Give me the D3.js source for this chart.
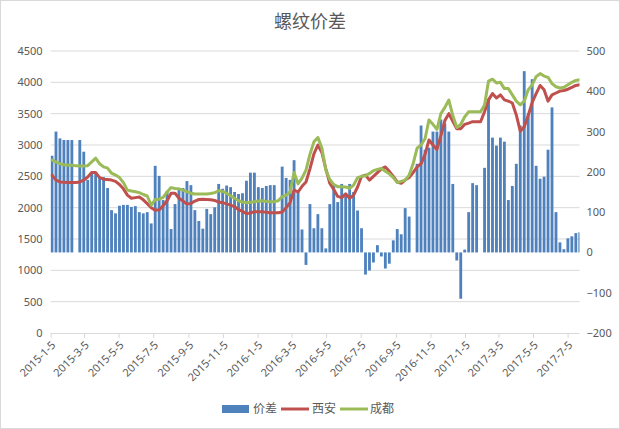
<!DOCTYPE html>
<html><head><meta charset="utf-8">
<script src="https://cdn.jsdelivr.net/npm/d3@7"></script>
<style>body{margin:0;background:#fff}text{font-family:"Noto Sans","Noto Sans CJK SC",sans-serif}</style>
</head><body>
<svg id="c" width="620" height="429"></svg>
<script>
// ---- data ----
const title = "螺纹价差";
const seriesNames = ["价差", "西安", "成都"];
const firstWeek = "2015-01-05";   // weekly samples, one per week from this Monday
const lastDay = "2017-07-26";
const tickLabels = ["2015-1-5","2015-3-5","2015-5-5","2015-7-5","2015-9-5","2015-11-5","2016-1-5","2016-3-5","2016-5-5","2016-7-5","2016-9-5","2016-11-5","2017-1-5","2017-3-5","2017-5-5","2017-7-5"];
const leftTicks = [0,500,1000,1500,2000,2500,3000,3500,4000,4500];
const rightTicks = [-200,-100,0,100,200,300,400,500];
// 价差 (right axis)
const spread = [240,300,283,279,279,279,null,279,250,180,
 200,200,185,187,160,105,97,116,118,118,
 113,115,100,97,100,72,215,190,130,152,
 58,120,160,160,177,167,105,78,59,108,
 95,112,170,158,166,162,150,145,147,178,
 198,198,162,160,165,167,167,null,213,185,
 180,229,150,57,-31,120,60,95,60,10,
 120,170,125,170,140,170,150,104,60,-55,
 -45,-25,18,-10,-40,-28,30,58,45,110,
 89,null,220,315,255,260,300,300,330,320,
 300,170,-20,-115,7,100,172,167,null,210,
 380,285,265,285,275,130,165,220,315,450,
 345,430,215,183,188,255,360,100,25,8,
 35,40,48,50];
// 西安 (left axis)
const xian = [2520,2440,2410,2405,2400,2400,2400,2410,2440,2490,
 2560,2560,2480,2455,2450,2440,2420,2370,2300,2200,
 2150,2160,2170,2125,2065,2000,1960,1965,2030,2110,
 2230,2230,2150,2105,2060,2065,2105,2130,2133,2130,
 2125,2115,2090,2080,2060,2040,2016,1970,1940,1905,
 1915,1936,1936,1935,1925,1920,1920,1920,1930,2000,
 2080,2280,2250,2340,2410,2620,2860,3000,2880,2620,
 2390,2290,2180,2160,2220,2150,2200,2330,2500,2520,
 2440,2500,2560,2620,2650,2580,2500,2410,2390,2440,
 2480,2560,2650,2700,2850,3080,3000,2930,3150,3390,
 3500,3380,3260,3260,3330,3350,3372,3372,3372,3530,
 3720,3820,3750,3800,3720,3700,3670,3480,3220,3290,
 3470,3680,3820,3950,3880,3700,3800,3830,3860,3870,
 3890,3920,3950,3960];
// 成都 (left axis)
const chengdu = [2760,2730,2700,2685,2676,2676,2670,2665,2665,2670,
 2730,2790,2700,2650,2630,2550,2520,2480,2400,2280,
 2265,2255,2240,2210,2186,2040,2130,2135,2165,2250,
 2320,2305,2300,2280,2255,2230,2218,2218,2220,2220,
 2225,2240,2270,2260,2230,2190,2150,2110,2090,2080,
 2085,2095,2105,2110,2100,2096,2096,2110,2176,2200,
 2250,2560,2380,2470,2600,2850,3050,3120,2950,2600,
 2450,2370,2335,2335,2330,2310,2360,2480,2500,2510,
 2547,2590,2610,2627,2580,2540,2480,2400,2420,2440,
 2520,2700,2950,3000,3100,3400,3330,3250,3500,3600,
 3718,3470,3280,3330,3450,3531,3531,3531,3531,3638,
 4020,4050,3990,4000,3900,3900,3800,3700,3640,3700,
 3880,3960,4090,4140,4100,4080,3980,3930,3910,3920,
 3960,4000,4030,4040];

// ---- chart ----
const colors = {bar:"#4F81BD", xian:"#C0504D", chengdu:"#9BBB59", text:"#595959", grid:"#D9D9D9"};
const parse = d3.timeParse("%Y-%m-%d");
const parseTick = d3.timeParse("%Y-%-m-%-d");
const t0 = parse(firstWeek), t1 = parse(lastDay);
const weeks = spread.map((_, i) => d3.timeDay.offset(t0, 7 * i));

const L = 50.6, R = 579.5, T = 51, B = 333;
const svg = d3.select("#c");
svg.append("rect").attr("x",0.5).attr("y",0.5).attr("width",619).attr("height",428)
  .attr("fill","#fff").attr("stroke","#D9D9D9");

const x = d3.scaleTime().domain([t0, t1]).range([L, R]);
const yL = d3.scaleLinear().domain([0, 4500]).range([B, T]);
const yR = d3.scaleLinear().domain([-200, 500]).range([B, T]);

svg.append("clipPath").attr("id","clip").append("rect")
  .attr("x", L).attr("y", 0).attr("width", R - L).attr("height", 429);

// gridlines
svg.append("g").selectAll("line").data(leftTicks.filter(d => d > 0)).join("line")
  .attr("x1", L).attr("x2", R).attr("y1", d => yL(d)).attr("y2", d => yL(d))
  .attr("stroke", colors.grid).attr("stroke-width", 1);

// title
svg.append("text").attr("x", 310).attr("y", 28).attr("text-anchor","middle")
  .attr("font-size", 18).attr("fill", colors.text)
  .style("font-family", '"Noto Sans CJK SC",sans-serif').text(title);

// left axis
const gl = svg.append("g").attr("transform", `translate(${L},0)`)
  .call(d3.axisLeft(yL).tickValues(leftTicks).tickSize(0).tickPadding(8).tickFormat(d3.format("d")));
gl.select(".domain").remove();
gl.selectAll("text").attr("font-size", 11).attr("fill", colors.text).style("font-family", null);

// right axis
const gr = svg.append("g").attr("transform", `translate(${R},0)`)
  .call(d3.axisRight(yR).tickValues(rightTicks).tickSize(0).tickPadding(7).tickFormat(d3.format("d")));
gr.select(".domain").remove();
gr.selectAll("text").attr("font-size", 11).attr("fill", colors.text).style("font-family", null);

// x axis
const tickDates = tickLabels.map(parseTick);
const gx = svg.append("g").attr("transform", `translate(0,${B})`)
  .call(d3.axisBottom(x).tickValues(tickDates).tickSize(5).tickFormat(""));
gx.select(".domain").attr("stroke", colors.grid).attr("d", `M${L},0.5H${R}`);
gx.selectAll(".tick line").attr("stroke", colors.grid);
svg.append("g").selectAll("text").data(tickDates).join("text")
  .attr("transform", (d) => `translate(${x(d) + 3},${B + 10}) rotate(-45)`)
  .attr("text-anchor", "end").attr("dy", "0.35em")
  .attr("font-size", 11).attr("fill", colors.text)
  .text((d, i) => tickLabels[i]);

// bars
const plot = svg.append("g").attr("clip-path", "url(#clip)");
plot.append("g").selectAll("rect")
  .data(weeks.map((d, i) => ({d, v: spread[i]})).filter(p => p.v !== null))
  .join("rect")
  .attr("x", p => x(p.d))
  .attr("width", p => x(d3.timeDay.offset(p.d, 5)) - x(p.d))
  .attr("y", p => yR(Math.max(0, p.v)))
  .attr("height", p => Math.abs(yR(p.v) - yR(0)))
  .attr("fill", colors.bar);

// lines
const mid = d => d3.timeHour.offset(d, 60);
function drawLine(vals, col) {
  const line = d3.line().x((v, i) => x(mid(weeks[i]))).y(v => yL(v)).curve(d3.curveLinear);
  plot.append("path").datum(vals).attr("d", line).attr("fill","none")
    .attr("stroke", col).attr("stroke-width", 3).attr("stroke-linejoin","round").attr("stroke-linecap","round");
}
drawLine(xian, colors.xian);
drawLine(chengdu, colors.chengdu);

// legend
const lg = svg.append("g").attr("transform", "translate(0,409)");
lg.append("rect").attr("x", 222).attr("y", -4).attr("width", 27).attr("height", 8).attr("fill", colors.bar);
lg.append("text").attr("x", 253).attr("y", 0).attr("dy","0.35em").attr("font-size", 12).attr("fill", colors.text)
  .style("font-family", '"Noto Sans CJK SC",sans-serif').text(seriesNames[0]);
lg.append("line").attr("x1", 281).attr("x2", 309).attr("y1", 0).attr("y2", 0).attr("stroke", colors.xian).attr("stroke-width", 3);
lg.append("text").attr("x", 312).attr("y", 0).attr("dy","0.35em").attr("font-size", 12).attr("fill", colors.text)
  .style("font-family", '"Noto Sans CJK SC",sans-serif').text(seriesNames[1]);
lg.append("line").attr("x1", 340).attr("x2", 368).attr("y1", 0).attr("y2", 0).attr("stroke", colors.chengdu).attr("stroke-width", 3);
lg.append("text").attr("x", 370).attr("y", 0).attr("dy","0.35em").attr("font-size", 12).attr("fill", colors.text)
  .style("font-family", '"Noto Sans CJK SC",sans-serif').text(seriesNames[2]);
</script>
</body></html>
